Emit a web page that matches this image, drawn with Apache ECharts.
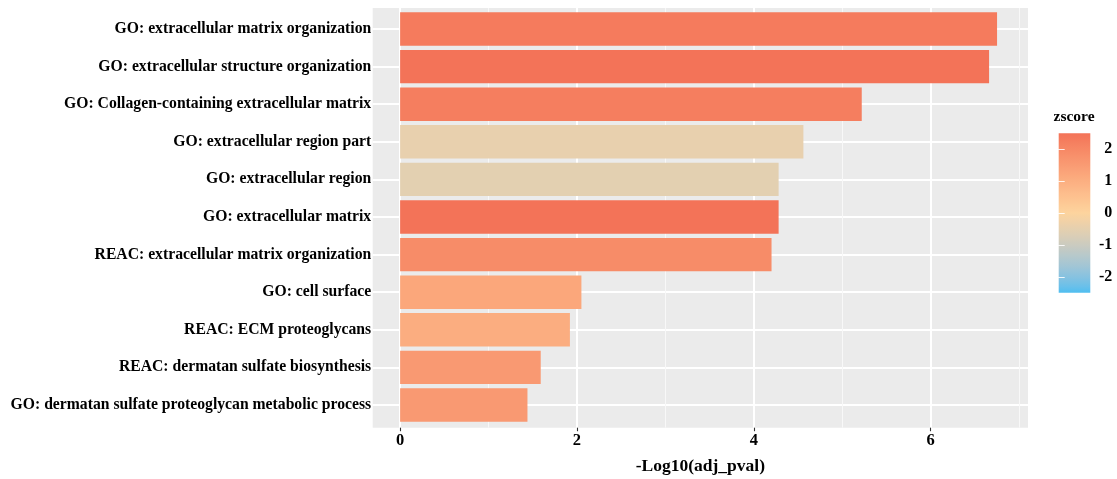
<!DOCTYPE html>
<html>
<head>
<meta charset="utf-8">
<script src="https://cdn.jsdelivr.net/npm/echarts@6/dist/echarts.min.js"></script>
<style>
  html, body { margin: 0; padding: 0; background: #ffffff; }
  #chart { width: 1117px; height: 479px; }
</style>
</head>
<body>
<div id="chart"></div>
<script>
// Enrichment terms, top to bottom
const categories = [
  'GO: extracellular matrix organization',
  'GO: extracellular structure organization',
  'GO: Collagen-containing extracellular matrix',
  'GO: extracellular region part',
  'GO: extracellular region',
  'GO: extracellular matrix',
  'REAC: extracellular matrix organization',
  'GO: cell surface',
  'REAC: ECM proteoglycans',
  'REAC: dermatan sulfate biosynthesis',
  'GO: dermatan sulfate proteoglycan metabolic process'
];
// -Log10(adj_pval) per term
const negLogAdjPval = [6.75, 6.66, 5.22, 4.56, 4.28, 4.28, 4.20, 2.05, 1.92, 1.59, 1.44];
// zscore per term (fill colour)
const zscores = [2.3, 2.5, 2.25, -0.45, -0.55, 2.5, 1.9, 1.2, 1.05, 1.55, 1.55];

const xMajorTicks = [0, 2, 4, 6];
const xMinorTicks = [1, 3, 5, 7];
const zscoreTicks = [-2, -1, 0, 1, 2];

const FONT = 'Liberation Serif';

// Diverging low / mid / high gradient, interpolated in CIELAB
function hexToRgb(h) {
  h = h.replace('#', '');
  return [0, 2, 4].map(i => parseInt(h.substr(i, 2), 16));
}
function toLin(c) { c /= 255; return c <= 0.04045 ? c / 12.92 : Math.pow((c + 0.055) / 1.055, 2.4); }
function fromLin(c) {
  c = c <= 0.0031308 ? 12.92 * c : 1.055 * Math.pow(c, 1 / 2.4) - 0.055;
  return Math.round(Math.max(0, Math.min(1, c)) * 255);
}
const WN = [0.95047, 1.0, 1.08883];
function rgbToLab(rgb) {
  const [r, g, b] = rgb.map(toLin);
  const X = (0.4124564 * r + 0.3575761 * g + 0.1804375 * b) / WN[0];
  const Y = (0.2126729 * r + 0.7151522 * g + 0.0721750 * b) / WN[1];
  const Z = (0.0193339 * r + 0.1191920 * g + 0.9503041 * b) / WN[2];
  const f = t => t > 0.008856 ? Math.cbrt(t) : 7.787 * t + 16 / 116;
  const fx = f(X), fy = f(Y), fz = f(Z);
  return [116 * fy - 16, 500 * (fx - fy), 200 * (fy - fz)];
}
function labToHex(lab) {
  const fy = (lab[0] + 16) / 116, fx = fy + lab[1] / 500, fz = fy - lab[2] / 200;
  const inv = t => (t * t * t > 0.008856 ? t * t * t : (t - 16 / 116) / 7.787);
  const X = WN[0] * inv(fx), Y = WN[1] * inv(fy), Z = WN[2] * inv(fz);
  const r = 3.2404542 * X - 1.5371385 * Y - 0.4985314 * Z;
  const g = -0.9692660 * X + 1.8760108 * Y + 0.0415560 * Z;
  const b = 0.0556434 * X - 0.2040259 * Y + 1.0572252 * Z;
  return '#' + [r, g, b].map(v => fromLin(v).toString(16).padStart(2, '0')).join('');
}
const LOW = rgbToLab(hexToRgb('#4FBEF0'));
const MID = rgbToLab(hexToRgb('#FDD49E'));
const HIGH = rgbToLab(hexToRgb('#F37358'));
const Z_MIN = -2.5, Z_MAX = 2.5;
const STEPS = 50;
const gradientStops = [];
for (let i = 0; i <= STEPS; i++) {
  const t = i / STEPS;
  let a, b, s;
  if (t < 0.5) { a = LOW; b = MID; s = t / 0.5; } else { a = MID; b = HIGH; s = (t - 0.5) / 0.5; }
  gradientStops.push(labToHex([0, 1, 2].map(k => a[k] + (b[k] - a[k]) * s)));
}
// Colour bar fill: top = Z_MAX, bottom = Z_MIN
const colourBarFill = new echarts.graphic.LinearGradient(0, 0, 0, 1,
  gradientStops.slice().reverse().map((c, i) => ({ offset: i / STEPS, color: c })));

// Layout of the plotting panel
const PANEL = { left: 372.7, right: 89, top: 8, bottom: 51.3 };
const ROW_TOP = 29, ROW_BOTTOM = 74;   // centres of first / last row
const X_MIN = -0.31, X_MAX = 7.1;

const barData = categories.map((c, i) => [negLogAdjPval[i], c, zscores[i]]);

const chart = echarts.init(document.getElementById('chart'), null, { renderer: 'canvas' });
chart.setOption({
  animation: false,
  backgroundColor: '#ffffff',
  textStyle: { fontFamily: FONT },
  title: {
    text: 'zscore',
    left: 1053.5,
    top: 109,
    padding: 0,
    textStyle: { fontFamily: FONT, fontWeight: 'bold', fontSize: 15.5, color: '#000' }
  },
  grid: [
    { // panel background + x axis
      left: PANEL.left, right: PANEL.right, top: PANEL.top, bottom: PANEL.bottom,
      show: true, backgroundColor: '#ebebeb', borderWidth: 0, outerBoundsMode: 'none'
    },
    { // bar rows
      left: PANEL.left, right: PANEL.right, top: ROW_TOP, bottom: ROW_BOTTOM,
      show: false, outerBoundsMode: 'none'
    },
    { // colour bar
      left: 1058.7, top: 133.3, width: 31.6, height: 159.4,
      show: true, backgroundColor: colourBarFill, borderWidth: 0, outerBoundsMode: 'none'
    }
  ],
  xAxis: [
    {
      gridIndex: 0, type: 'value', min: X_MIN, max: X_MAX,
      name: '-Log10(adj_pval)', nameLocation: 'middle', nameGap: 30,
      nameTextStyle: { fontFamily: FONT, fontWeight: 'bold', fontSize: 17.5, color: '#000' },
      axisLine: { show: false },
      axisTick: { show: true, customValues: xMajorTicks, length: 3.5, lineStyle: { color: '#333333', width: 1.1 } },
      axisLabel: { customValues: xMajorTicks, margin: 5, fontFamily: FONT, fontWeight: 'bold', fontSize: 16.5, color: '#000' },
      splitLine: { show: true, lineStyle: { color: '#ffffff', width: 2 } }
    },
    {
      gridIndex: 0, type: 'value', min: X_MIN, max: X_MAX,
      axisLine: { show: false },
      axisTick: { show: false, customValues: xMinorTicks },
      axisLabel: { show: false, customValues: xMinorTicks },
      splitLine: { show: true, lineStyle: { color: '#f8f8f8', width: 1 } }
    },
    {
      gridIndex: 1, type: 'value', min: X_MIN, max: X_MAX, show: false
    },
    {
      gridIndex: 2, type: 'value', show: false
    }
  ],
  yAxis: [
    { gridIndex: 0, type: 'value', show: false },
    {
      gridIndex: 1, type: 'category', data: categories, inverse: true, boundaryGap: false,
      axisLine: { show: false },
      axisTick: { show: false },
      axisLabel: { margin: 1.5, fontFamily: FONT, fontWeight: 'bold', fontSize: 15.7, color: '#000' },
      splitLine: { show: true, lineStyle: { color: '#ffffff', width: 2 } }
    },
    {
      gridIndex: 2, type: 'value', min: Z_MIN, max: Z_MAX, position: 'right', z: 10,
      axisLine: { show: false },
      axisTick: { show: true, inside: true, length: 6, customValues: zscoreTicks, lineStyle: { color: 'rgba(255,255,255,0.85)', width: 1 } },
      axisLabel: { customValues: zscoreTicks, align: 'right', margin: 22, fontFamily: FONT, fontWeight: 'bold', fontSize: 16, color: '#000' },
      splitLine: { show: false }
    },
    {
      gridIndex: 2, type: 'value', min: Z_MIN, max: Z_MAX, position: 'left', z: 10,
      axisLine: { show: false },
      axisTick: { show: true, inside: true, length: 6, customValues: zscoreTicks, lineStyle: { color: 'rgba(255,255,255,0.85)', width: 1 } },
      axisLabel: { show: false, customValues: zscoreTicks },
      splitLine: { show: false }
    }
  ],
  visualMap: {
    type: 'continuous',
    show: false,
    min: Z_MIN, max: Z_MAX,
    dimension: 2,
    seriesIndex: 0,
    inRange: { color: gradientStops }
  },
  series: [
    {
      type: 'bar',
      xAxisIndex: 2, yAxisIndex: 1,
      data: barData,
      encode: { x: 0, y: 1 },
      barWidth: 33.4,
      clip: false,
      itemStyle: { borderWidth: 0 },
      silent: true
    }
  ]
});
</script>
</body>
</html>
